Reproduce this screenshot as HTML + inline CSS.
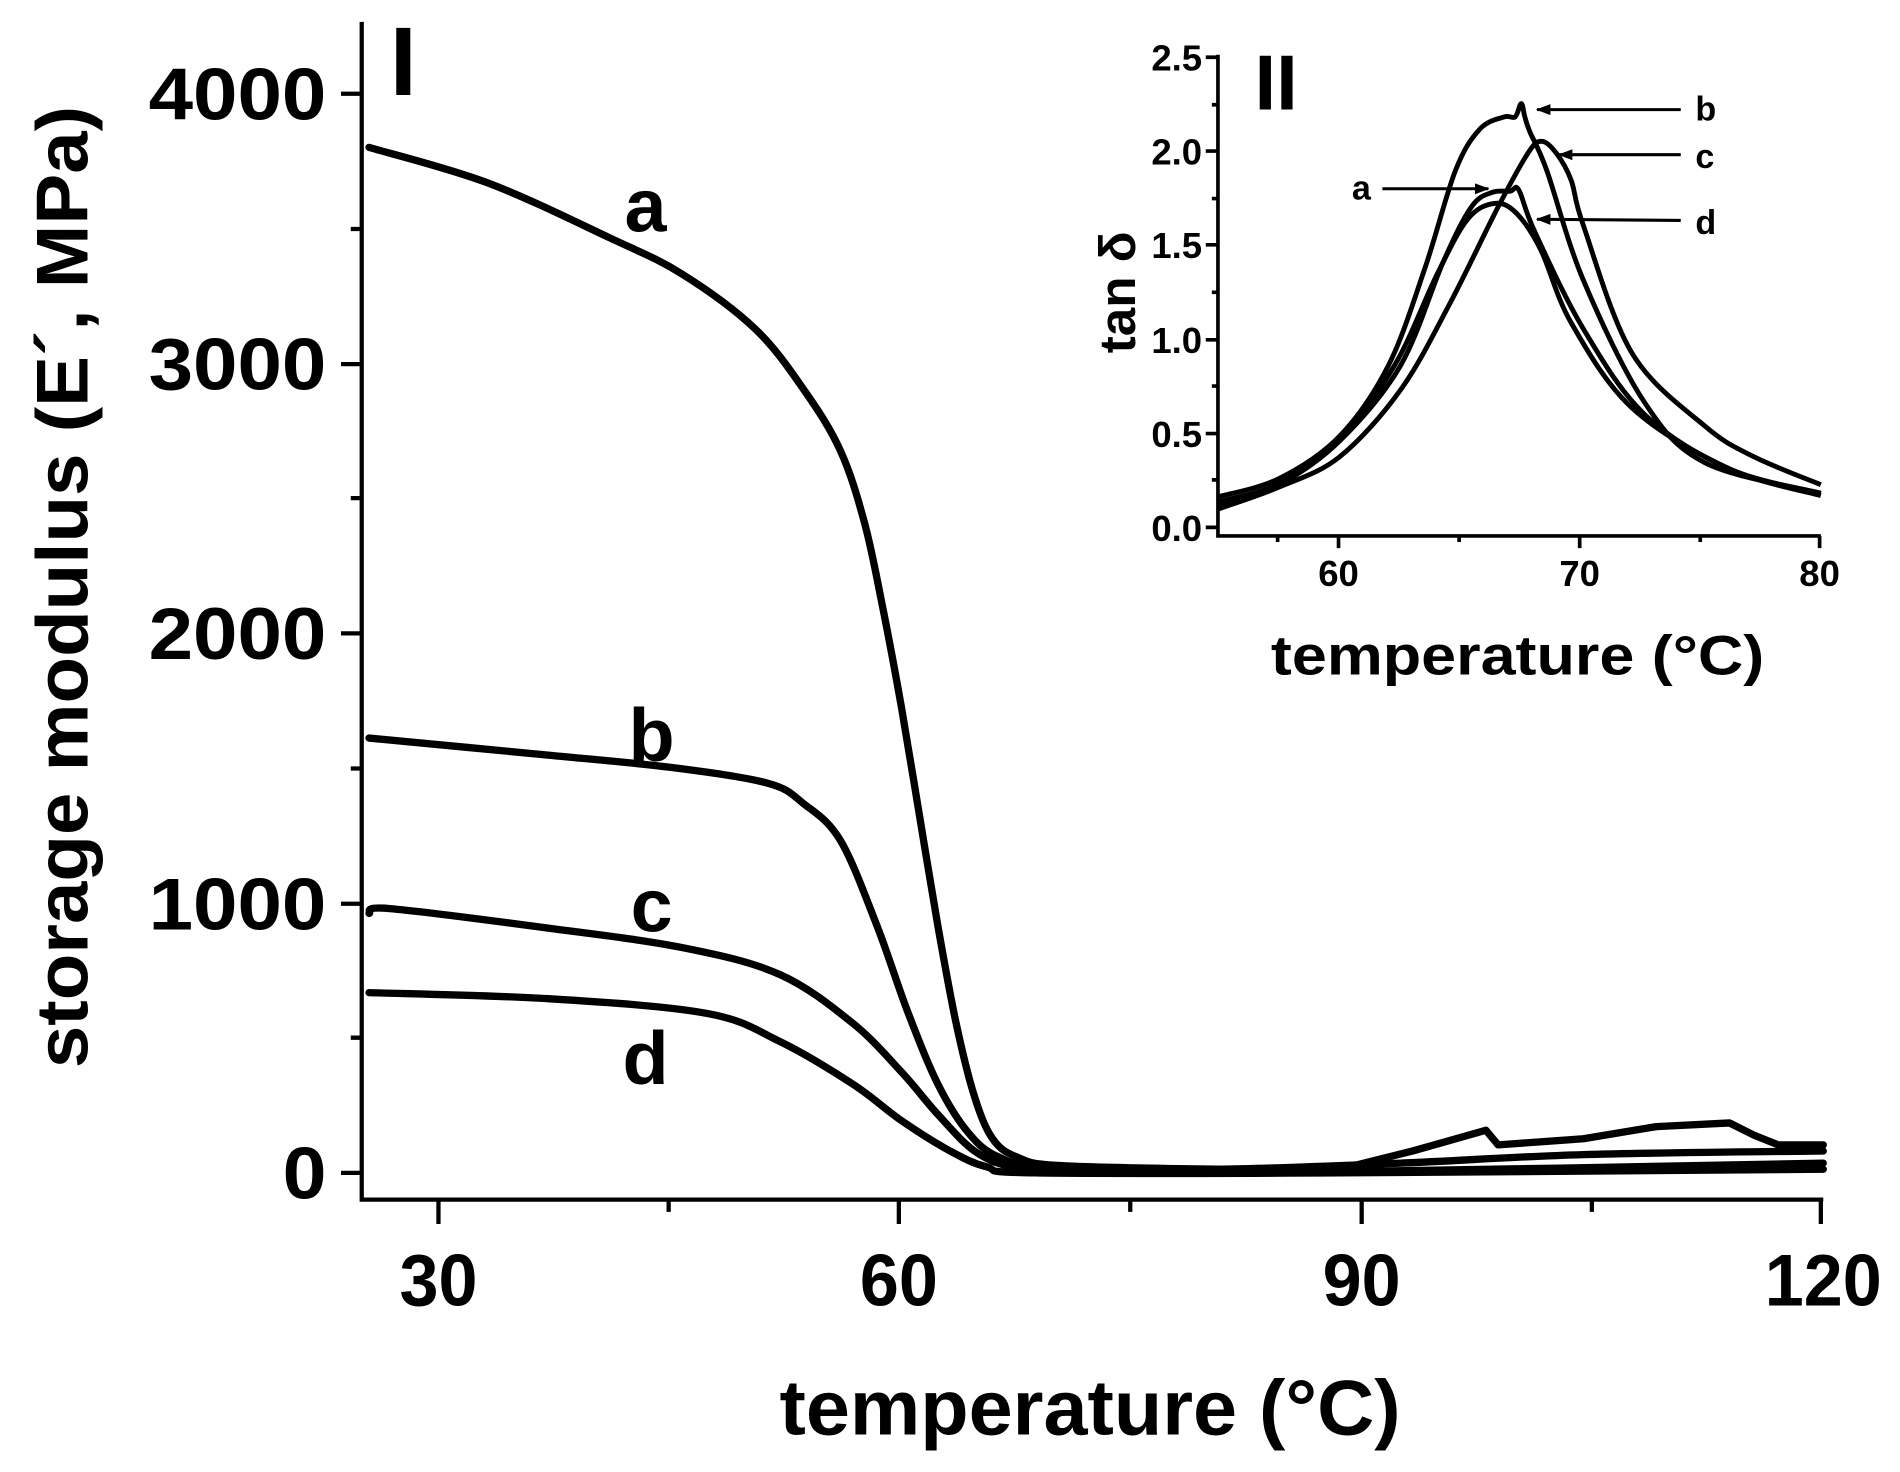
<!DOCTYPE html>
<html><head><style>html,body{margin:0;padding:0;background:#fff}svg{display:block}</style></head><body>
<svg width="1900" height="1472" viewBox="0 0 1560 1208.6" preserveAspectRatio="none" xmlns="http://www.w3.org/2000/svg" font-family="Liberation Sans, Arial, sans-serif" font-weight="bold">
<defs><marker id="ar" markerWidth="12" markerHeight="9" refX="11" refY="4.5" orient="auto" markerUnits="userSpaceOnUse"><path d="M0,0 L12,4.5 L0,9 Z" fill="#000"/></marker></defs>
<g stroke="#000" stroke-width="3.5" fill="none">
<path d="M297,18 V985 H1497"/>
<path d="M280,77H297M280,299H297M280,520H297M280,742H297M280,963H297M288,188H297M288,409H297M288,631H297M288,852H297"/>
<path d="M360,985V1005M738,985V1005M1118,985V1005M1495,985V1005M549,985V995M928,985V995M1307,985V995"/>
</g>
<g font-size="60" text-anchor="end" lengthAdjust="spacingAndGlyphs"><text x="268" y="98" textLength="146" lengthAdjust="spacingAndGlyphs">4000</text><text x="268" y="320" textLength="146" lengthAdjust="spacingAndGlyphs">3000</text><text x="268" y="541" textLength="146" lengthAdjust="spacingAndGlyphs">2000</text><text x="268" y="763" textLength="146" lengthAdjust="spacingAndGlyphs">1000</text><text x="268" y="984" textLength="36" lengthAdjust="spacingAndGlyphs">0</text></g>
<g font-size="60" text-anchor="middle"><text x="360" y="1072" textLength="64" lengthAdjust="spacingAndGlyphs">30</text><text x="738" y="1072" textLength="64" lengthAdjust="spacingAndGlyphs">60</text><text x="1118" y="1072" textLength="64" lengthAdjust="spacingAndGlyphs">90</text><text x="1497" y="1072" textLength="96" lengthAdjust="spacingAndGlyphs">120</text></g>
<text x="895" y="1178" font-size="64" text-anchor="middle" textLength="510" lengthAdjust="spacingAndGlyphs">temperature (°C)</text>
<text transform="translate(72,482) rotate(-90)" font-size="60" text-anchor="middle" textLength="790" lengthAdjust="spacingAndGlyphs">storage modulus (E´, MPa)</text>
<text x="320" y="78" font-size="80">I</text>
<g font-size="62" text-anchor="middle"><text x="530" y="190">a</text><text x="535" y="625">b</text><text x="535" y="765">c</text><text x="530" y="890">d</text></g>
<g stroke="#000" stroke-width="6" fill="none" stroke-linejoin="round" stroke-linecap="round">
<path class="sm" data-p="303,121 400,150 500,195 560,225 620,270 660,320 690,370 710,430 725,500 740,580 755,670 770,760 785,840 800,900 815,935 835,950 870,957 1000,960 1100,960"/>
<path d="M1100,960 L1160,945 L1220,928 L1230,940 L1300,935 L1360,925 L1420,922 L1440,932 L1460,940 L1497,940"/>
<path class="sm" data-p="303,606 450,620 550,630 630,643 660,660 690,690 720,760 745,830 770,890 795,930 820,950 860,958 1000,960 1150,955 1300,948 1497,945"/>
<path class="sm" data-p="303,750 320,746 450,762 560,778 640,800 700,840 740,880 770,915 800,945 830,958 870,962 1100,962 1497,955"/>
<path class="sm" data-p="303,815 450,820 580,832 640,855 700,890 740,920 780,945 810,958 850,963 1100,963 1497,960"/>
</g>
<g stroke="#000" stroke-width="3" fill="none">
<path d="M1000,45 V440 H1495"/>
<path d="M990,433H1000M990,356H1000M990,279H1000M990,201H1000M990,124H1000M990,47H1000M995,394H1000M995,317H1000M995,240H1000M995,163H1000M995,86H1000"/>
<path d="M1099,440V450M1297,440V450M1494,440V450M1049,440V445M1198,440V445M1396,440V445"/>
</g>
<g font-size="30" text-anchor="end"><text x="987" y="444">0.0</text><text x="987" y="367">0.5</text><text x="987" y="290">1.0</text><text x="987" y="212">1.5</text><text x="987" y="135">2.0</text><text x="987" y="58">2.5</text></g>
<g font-size="30" text-anchor="middle"><text x="1099" y="481">60</text><text x="1297" y="481">70</text><text x="1494" y="481">80</text></g>
<text x="1246" y="554" font-size="46" text-anchor="middle" textLength="405" lengthAdjust="spacingAndGlyphs">temperature (°C)</text>
<text transform="translate(932,240) rotate(-90)" font-size="42" text-anchor="middle">tan δ</text>
<text x="1030" y="90" font-size="64">II</text>
<g stroke="#000" stroke-width="4" fill="none" stroke-linejoin="round">
<path class="sm" data-p="1000,408 1050,393 1100,358 1140,300 1170,220 1195,140 1215,106 1235,96 1244,96 1249,85 1252,96 1256,108 1270,140 1300,230 1350,330 1400,380 1495,405"/>
<path class="sm" data-p="1000,418 1050,400 1100,375 1150,320 1190,250 1230,170 1255,125 1266,116 1278,126 1290,148 1300,185 1340,290 1400,350 1440,375 1495,398"/>
<path class="sm" data-p="1000,415 1050,398 1100,362 1150,300 1185,215 1208,170 1225,158 1240,157 1247,156 1260,190 1300,270 1350,340 1420,385 1495,405"/>
<path class="sm" data-p="1000,412 1050,397 1100,360 1145,300 1180,225 1205,180 1227,167 1245,175 1265,205 1290,265 1340,335 1420,385 1495,407"/>
</g>
<g stroke="#000" stroke-width="2.5">
<line x1="1380" y1="90" x2="1262" y2="90" marker-end="url(#ar)"/>
<line x1="1380" y1="127" x2="1280" y2="127" marker-end="url(#ar)"/>
<line x1="1380" y1="181" x2="1262" y2="180" marker-end="url(#ar)"/>
<line x1="1135" y1="155" x2="1222" y2="155" marker-end="url(#ar)"/>
</g>
<g font-size="28"><text x="1392" y="99">b</text><text x="1392" y="138">c</text><text x="1392" y="192">d</text><text x="1110" y="164">a</text></g>
</svg>
<script>
document.querySelectorAll('path.sm').forEach(function(el){
var p=el.getAttribute('data-p').trim().split(/\s+/).map(function(s){return s.split(',').map(Number);});
var d='M'+p[0][0]+','+p[0][1];
for(var i=0;i<p.length-1;i++){
var p0=p[i-1]||p[i],p1=p[i],p2=p[i+1],p3=p[i+2]||p2;
var c1x=p1[0]+(p2[0]-p0[0])/6,c1y=p1[1]+(p2[1]-p0[1])/6,c2x=p2[0]-(p3[0]-p1[0])/6,c2y=p2[1]-(p3[1]-p1[1])/6;
d+=' C'+c1x+','+c1y+' '+c2x+','+c2y+' '+p2[0]+','+p2[1];}
el.setAttribute('d',d);});
</script>
</body></html>
